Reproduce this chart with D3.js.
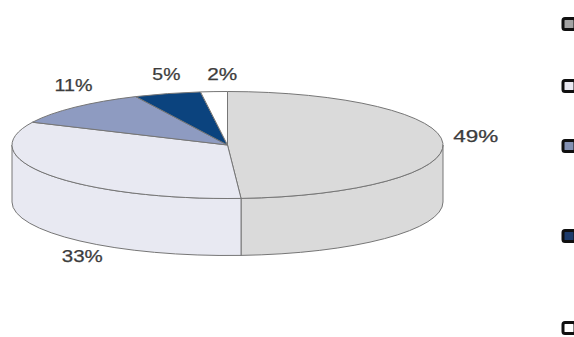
<!DOCTYPE html>
<html>
<head>
<meta charset="utf-8">
<script src="https://cdn.jsdelivr.net/npm/d3@7"></script>
<style>
  body { margin: 0; background: #fff; }
  svg { display: block; }
  .pctLabel { font-family: "Liberation Sans", Arial, sans-serif; font-size: 16px; fill: #3c3c3c; stroke: #3c3c3c; stroke-width: 0.25px; }
</style>
</head>
<body>
<div id="pie"></div>
<script>
// slice values (percent), drawn clockwise from 12 o'clock
var shares = [49, 33, 11, 5, 2];
var labels = ["49%", "33%", "11%", "5%", "2%"];
var sliceColors = ["#dadada", "#e8e9f2", "#8e9bc1", "#0b437e", "#ffffff"];
var legendColors = ["#a3a3a3", "#e9e9f1", "#8391b3", "#1d3b6b", "#ffffff"];

// svg size
var svgWidth = 574;
var svgHeight = 337;

// ellipse geometry of the tilted pie
var cx = 227.5, cy = 145, rx = 215.5, ry = 53.5, depth = 57;

// label placement (ellipse factors + small nudges per label)
var labelKx = 1.05, labelKy = 1.35;
var labelNudge = [[22, -1], [42, 76], [6, -3], [2, 4], [9, 7]];
var labelWidth = [45, 41, 38, 28, 30];

// legend markers (the legend text sits outside the picture)
var legendX = 563;
var legendY = [24, 86, 146, 236, 328];

var svg = d3.select("#pie")
    .append("svg")
    .attr("width", svgWidth)
    .attr("height", svgHeight);

var pie = d3.pie().sort(null).value(d => d);
var arcs = pie(shares);

// point on the rim, angle from top going clockwise
function rim(a, dy) {
    return [cx + rx * Math.sin(a), cy - ry * Math.cos(a) + (dy || 0)];
}

// side walls: only the front half (90deg .. 270deg) is visible
var sideGroup = svg.append("g");
arcs.forEach(function(d, i) {
    var s = Math.max(d.startAngle, Math.PI / 2);
    var e = Math.min(d.endAngle, 3 * Math.PI / 2);
    if (e <= s) return;
    var p1 = rim(s), p2 = rim(e), p3 = rim(e, depth), p4 = rim(s, depth);
    var large = (e - s) > Math.PI ? 1 : 0;
    var path = `M${p1} A${rx},${ry} 0 ${large} 1 ${p2} L${p3} A${rx},${ry} 0 ${large} 0 ${p4} Z`;
    sideGroup.append("path")
        .attr("d", path)
        .attr("fill", sliceColors[i])
        .attr("stroke", "#767676")
        .attr("stroke-width", 1)
        .attr("stroke-linejoin", "round");
});

// top faces
var topGroup = svg.append("g");
topGroup.selectAll("path")
    .data(arcs)
    .enter()
    .append("path")
    .attr("d", function(d) {
        var p1 = rim(d.startAngle), p2 = rim(d.endAngle);
        var large = (d.endAngle - d.startAngle) > Math.PI ? 1 : 0;
        return `M${cx},${cy} L${p1} A${rx},${ry} 0 ${large} 1 ${p2} Z`;
    })
    .attr("fill", (d, i) => sliceColors[i])
    .attr("stroke", "#767676")
    .attr("stroke-width", 1)
    .attr("stroke-linejoin", "round");

// percentage labels
svg.selectAll(".pctLabel")
    .data(arcs)
    .enter()
    .append("text")
    .attr("class", "pctLabel")
    .attr("x", function(d, i) {
        var mid = (d.startAngle + d.endAngle) / 2;
        return cx + rx * labelKx * Math.sin(mid) + labelNudge[i][0] - labelWidth[i] / 2;
    })
    .attr("y", function(d, i) {
        var mid = (d.startAngle + d.endAngle) / 2;
        return cy - ry * labelKy * Math.cos(mid) + labelNudge[i][1];
    })
    .attr("textLength", (d, i) => labelWidth[i])
    .attr("lengthAdjust", "spacingAndGlyphs")
    .text((d, i) => labels[i]);

// legend markers
svg.selectAll(".legendMark")
    .data(legendColors)
    .enter()
    .append("rect")
    .attr("class", "legendMark")
    .attr("x", legendX)
    .attr("y", (d, i) => legendY[i] - 5.5)
    .attr("width", 12)
    .attr("height", 11)
    .attr("rx", 2)
    .attr("fill", d => d)
    .attr("stroke", "#101010")
    .attr("stroke-width", 3);
</script>
</body>
</html>
